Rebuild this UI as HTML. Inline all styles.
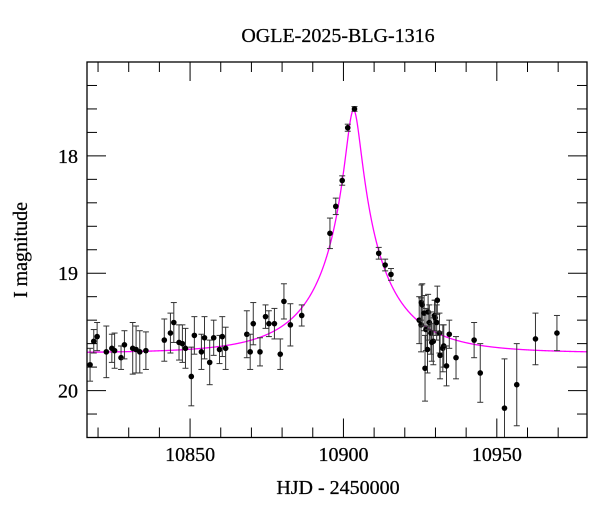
<!DOCTYPE html>
<html><head><meta charset="utf-8"><style>
html,body{margin:0;padding:0;background:#fff}
svg{display:block}
text{font-family:"Liberation Serif",serif;fill:#000;stroke:#000;stroke-width:0.25}
</style></head><body>
<svg id="chart" width="600" height="512">
<text x="338" y="42" text-anchor="middle" font-size="20">OGLE-2025-BLG-1316</text>
<text x="338" y="494" text-anchor="middle" font-size="20">HJD - 2450000</text>
<text transform="translate(27,250) rotate(-90)" text-anchor="middle" font-size="20">I magnitude</text>
<g id="model"></g>
<g id="data"></g>
<g id="axes"></g>
</svg>
<script>
const hjd = [10817.4,10818.6,10819.7,10822.7,10824.5,10825.4,10827.5,10828.6,10831.3,10832.4,10833.6,10835.6,10841.6,10843.6,10844.7,10846.4,10847.5,10848.5,10850.4,10851.4,10853.7,10854.7,10856.4,10857.7,10859.6,10860.5,10861.6,10868.5,10869.6,10870.6,10872.8,10874.6,10875.7,10877.5,10879.4,10880.6,10882.7,10886.4,
10895.6,10897.5,10899.6,10901.4,10903.6,10911.5,10913.6,10915.5,
10924.7,10925.3,10925.4,10925.7,10926.3,10926.6,10926.9,10927.4,10927.6,10928.0,10928.5,10928.8,10929.3,10929.7,10929.9,10930.4,10930.6,10931.3,10931.5,10932.4,10932.7,10933.6,10934.5,10936.7,10942.6,10944.6,10952.5,10956.5,10962.6,10969.6];
const mag = [19.78,19.58,19.54,19.67,19.64,19.66,19.72,19.61,19.64,19.65,19.67,19.66,19.57,19.51,19.42,19.59,19.60,19.64,19.88,19.53,19.67,19.55,19.76,19.55,19.65,19.54,19.64,19.52,19.67,19.43,19.67,19.37,19.43,19.43,19.69,19.24,19.44,19.36,
18.66,18.43,18.21,17.76,17.60,18.83,18.93,19.01,
19.40,19.44,19.25,19.27,19.34,19.81,19.48,19.65,19.33,19.42,19.51,19.59,19.58,19.36,19.38,19.42,19.23,19.51,19.70,19.64,19.62,19.79,19.52,19.72,19.57,19.85,20.15,19.95,19.56,19.51];
const magErr = [0.14,0.10,0.12,0.22,0.12,0.15,0.10,0.12,0.22,0.20,0.18,0.16,0.18,0.17,0.17,0.15,0.16,0.17,0.25,0.16,0.15,0.18,0.19,0.15,0.12,0.17,0.18,0.20,0.15,0.18,0.12,0.10,0.11,0.13,0.13,0.15,0.18,0.09,
0.13,0.07,0.04,0.03,0.02,0.05,0.05,0.05,
0.20,0.23,0.15,0.18,0.15,0.28,0.18,0.20,0.15,0.15,0.18,0.16,0.20,0.13,0.15,0.15,0.12,0.17,0.20,0.20,0.18,0.17,0.12,0.18,0.15,0.25,0.42,0.35,0.22,0.15];
const xTicks = [10850,10900,10950];
const yTicks = [18,19,20];
const model = {t0:10903.3, tE:25, u0:0.095, fs:0.6, base:19.68};

const L=87,R=587,T=62,B=437.5, X0=10816.4, X1=10979.4, Y0=17.2, Y1=20.4;
const sx=d=>L+(d-X0)/(X1-X0)*(R-L);
const sy=m=>T+(m-Y0)/(Y1-Y0)*(B-T);
const NS="http://www.w3.org/2000/svg";
function mk(tag,attrs,parent){const e=document.createElementNS(NS,tag);for(const k in attrs)e.setAttribute(k,attrs[k]);parent.appendChild(e);return e;}

const gm=document.getElementById('model');
let pts=[];
for(let d=X0; d<=X1; d+=0.1){
  const tau=(d-model.t0)/model.tE, u=Math.sqrt(tau*tau+model.u0*model.u0);
  const A=(u*u+2)/(u*Math.sqrt(u*u+4));
  const m=model.base-2.5*Math.log10(model.fs*A+1-model.fs);
  pts.push(sx(d).toFixed(2)+','+sy(Math.max(m,Y0)).toFixed(2));
}
const curve=mk('polyline',{points:pts.join(' '),fill:'none',stroke:'#ff00ff','stroke-width':1.3},gm);



const gd=document.getElementById('data');
for(let i=0;i<hjd.length;i++){
  const x=sx(hjd[i]), y=sy(mag[i]), y1=Math.min(sy(mag[i]-magErr[i]),B), y2=Math.min(sy(mag[i]+magErr[i]),B);
  const g=mk('g',{},gd);
  
  
  mk('line',{x1:x,x2:x,y1:y1,y2:y2,stroke:'#333','stroke-width':1},g);
  if(y1>T) mk('line',{x1:x-3,x2:x+3,y1:y1,y2:y1,stroke:'#333','stroke-width':1},g);
  if(y2<B) mk('line',{x1:x-3,x2:x+3,y1:y2,y2:y2,stroke:'#333','stroke-width':1},g);
  mk('circle',{cx:x,cy:y,r:2.8,fill:'#000'},g);
}

const ga=document.getElementById('axes');
const frame=mk('rect',{x:L,y:T,width:R-L,height:B-T,fill:'none',stroke:'#000','stroke-width':1.3},ga);


for(let d=10820; d<=10970; d+=10){
  const major=d%50===0, len=major?19:10, x=sx(d);
  mk('line',{x1:x,x2:x,y1:B,y2:B-len,stroke:'#000','stroke-width':1},ga);
  mk('line',{x1:x,x2:x,y1:T,y2:T+len,stroke:'#000','stroke-width':1},ga);
}
for(let k=174; k<=202; k+=2){
  const m=k/10;
  const major=k%10===0, len=major?19:10, y=sy(m);
  mk('line',{x1:L,x2:L+len,y1:y,y2:y,stroke:'#000','stroke-width':1},ga);
  mk('line',{x1:R,x2:R-len,y1:y,y2:y,stroke:'#000','stroke-width':1},ga);
}
xTicks.forEach(v=>{
  const t=mk('text',{x:sx(v),y:461,'text-anchor':'middle','font-size':20},ga);
  t.textContent=v;
  
  
});
yTicks.forEach(v=>{
  const t=mk('text',{x:78,y:sy(v)+7,'text-anchor':'end','font-size':20},ga);
  t.textContent=v;
  
  
});
</script>
</body></html>
